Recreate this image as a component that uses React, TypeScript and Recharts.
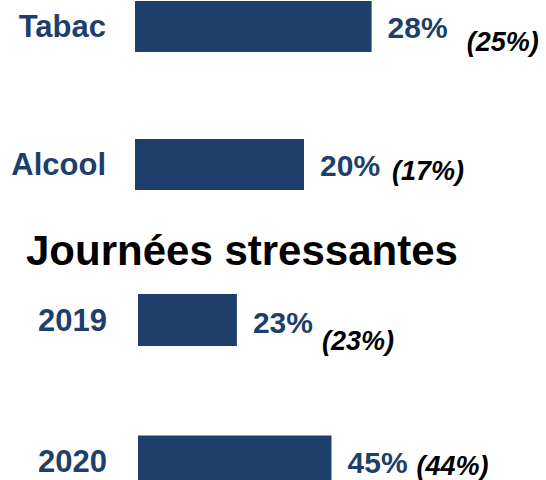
import { BarChart, Bar, XAxis, YAxis, LabelList } from "recharts";

// consommation (% des répondants), valeur de l'année précédente entre parenthèses
const habitCategories = ["Tabac", "Alcool"];
const habitValues = [28, 20];
const habitPrevious = [25, 17];

const stressTitle = "Journées stressantes";
const stressYears = ["2019", "2020"];
const stressValues = [23, 45];
const stressPrevious = [23, 44];

const navy = "#1f3f6b";
const font = "'Liberation Sans', Arial, Helvetica, sans-serif";

// placement of the "xx% (yy%)" annotations, per row
const habitLabelPos = [
  { dy: 11.5, parenDx: 19, parenDy: 13 },
  { dy: 11.5, parenDx: 12, parenDy: 3.5 },
];
const stressLabelPos = [
  { dy: 13, parenDx: 9, parenDy: 17 },
  { dy: 11.5, parenDx: 9, parenDy: 2 },
];

const habitData = habitCategories.map((name, i) => ({ name, value: habitValues[i] }));
const stressData = stressYears.map((name, i) => ({ name, value: stressValues[i] }));

const makeLabel = (previous: number[], pos: { dy: number; parenDx: number; parenDy: number }[]) =>
  (props: any) => {
    const { x, y, width, height, value, index } = props;
    const o = pos[index] || pos[0];
    return (
      <text
        x={Number(x) + Number(width) + 16}
        y={Number(y) + Number(height) / 2 + o.dy}
        fontFamily={font}
        fontWeight="bold"
      >
        <tspan fontSize={30} fill={navy}>
          {value}%
        </tspan>
        <tspan dx={o.parenDx} dy={o.parenDy} fontSize={27} fontStyle="italic" fill="#000">
          ({previous[index]}%)
        </tspan>
      </text>
    );
  };

const tickStyle = { fill: navy, fontSize: 31, fontWeight: "bold", fontFamily: font };

export default function App() {
  return (
    <div
      style={{
        position: "absolute",
        left: 0,
        top: 0,
        width: 546,
        height: 480,
        overflow: "hidden",
        background: "#fff",
      }}
    >
      <div style={{ position: "absolute", left: 0, top: -43 }}>
        <BarChart
          layout="vertical"
          width={546}
          height={276}
          data={habitData}
          margin={{ top: 0, right: 73, bottom: 0, left: 0 }}
        >
          <XAxis type="number" domain={[0, 40]} hide padding={{ left: 4, right: 0 }} />
          <YAxis
            type="category"
            dataKey="name"
            width={131}
            axisLine={false}
            tickLine={false}
            tickSize={0}
            tickMargin={25}
            interval={0}
            tick={tickStyle}
          />
          <Bar dataKey="value" fill={navy} barSize={51} isAnimationActive={false}>
            <LabelList dataKey="value" content={makeLabel(habitPrevious, habitLabelPos)} />
          </Bar>
        </BarChart>
      </div>

      <svg style={{ position: "absolute", left: 0, top: 0 }} width={546} height={480}>
        <text x={26} y={265} fontFamily={font} fontWeight="bold" fontSize={42} fill="#000">
          {stressTitle}
        </text>
      </svg>

      <div style={{ position: "absolute", left: 0, top: 249 }}>
        <BarChart
          layout="vertical"
          width={546}
          height={283}
          data={stressData}
          margin={{ top: 0, right: 21, bottom: 0, left: 0 }}
        >
          <XAxis type="number" domain={[0, 90]} hide padding={{ left: 1, right: 0 }} />
          <YAxis
            type="category"
            dataKey="name"
            width={137}
            axisLine={false}
            tickLine={false}
            tickSize={0}
            tickMargin={30}
            interval={0}
            tick={tickStyle}
          />
          <Bar dataKey="value" fill={navy} barSize={52} isAnimationActive={false}>
            <LabelList dataKey="value" content={makeLabel(stressPrevious, stressLabelPos)} />
          </Bar>
        </BarChart>
      </div>
    </div>
  );
}
